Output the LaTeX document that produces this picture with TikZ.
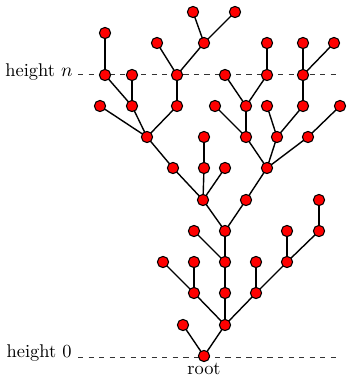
\documentclass[tikz,border=0pt]{standalone}
\begin{document}
\begin{tikzpicture}[x=0.57pt,y=-0.57pt,
  vtx/.style={circle,draw=black,fill=red,line width=0.6pt,inner sep=0pt,minimum size=6.4pt},
  edge/.style={line width=0.8pt},
  lbl/.style={font=\fontsize{10.5}{12}\selectfont},
  level/.style={dashed,line width=0.45pt,black!80}]
\useasboundingbox (0,0) rectangle (347,378);
% levels
\coordinate (nL) at (78,74); \coordinate (nR) at (336,74);
\coordinate (zL) at (78,357); \coordinate (zR) at (336,357);
\draw[level] (nL) -- (nR);
\draw[level] (zL) -- (zR);
\node[lbl,anchor=east,inner sep=0pt] (hn) at (73,72) {height $n$};
\node[lbl,anchor=east,inner sep=0pt] (h0) at (72,353) {height 0};
% vertices
\foreach \n/\x/\y in {
 r/204/356,
 a1/183/325, a2/225/325,
 b1/194/293, b2/225/293, b3/256/293,
 c1/163/262, c2/194/262, c3/225/262, c4/256/262, c5/287/262,
 d1/194/231, d2/225/231, d3/287/231, d4/319/231,
 e1/203/200, e2/246/200, e3/319/200,
 f1/173/168, f2/204/168, f3/225/168, f4/267/168,
 g1/147/137, g2/204/137, g3/246/137, g4/277/137, g5/308/137,
 h1/100/106, h2/132/106, h3/177/106, h4/215/106, h5/246/106, h6/267/106, h7/303/106, h8/340/106,
 i1/105/75, i2/132/75, i3/177/75, i4/225/75, i5/267/75, i6/303/75,
 j1/105/33, j2/157/43, j3/204/43, j4/267/43, j5/303/43, j6/334/43,
 k1/193/12, k2/235/12}
 {\coordinate (\n) at (\x,\y);}
\foreach \p/\c in {r/a1,r/a2,a2/b1,a2/b2,a2/b3,b1/c1,b1/c2,b2/c3,b3/c4,b3/c5,
 c3/d1,c3/d2,c5/d3,c5/d4,d2/e1,d2/e2,d4/e3,e1/f1,e1/f2,e1/f3,e2/f4,
 f1/g1,f2/g2,f4/g3,f4/g4,f4/g5,g1/h1,g1/h2,g1/h3,g3/h4,g3/h5,g4/h6,g4/h7,g5/h8,
 h2/i1,h2/i2,h3/i3,h5/i4,h5/i5,h7/i6,i1/j1,i3/j2,i3/j3,i5/j4,i6/j5,i6/j6,j3/k1,j3/k2}
 {\draw[edge] (\p) -- (\c);}
\foreach \n in {r,a1,a2,b1,b2,b3,c1,c2,c3,c4,c5,d1,d2,d3,d4,e1,e2,e3,f1,f2,f3,f4,
 g1,g2,g3,g4,g5,h1,h2,h3,h4,h5,h6,h7,h8,i1,i2,i3,i4,i5,i6,j1,j2,j3,j4,j5,j6,k1,k2}
 {\node[vtx] (v\n) at (\n) {};}
\node[lbl,below=0pt,inner sep=0.5pt] (rootlbl) at (vr.south) {root};
\end{tikzpicture}
\end{document}
